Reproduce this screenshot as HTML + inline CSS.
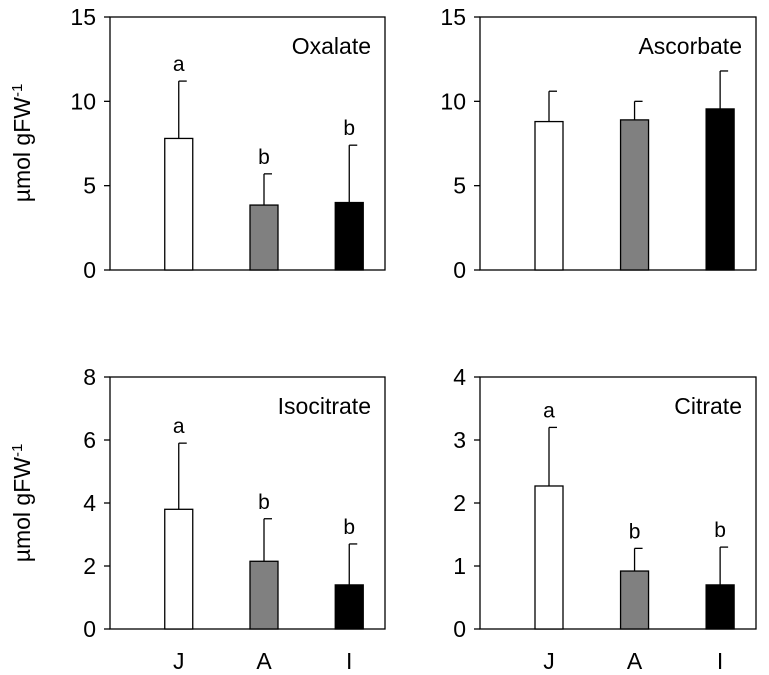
<!DOCTYPE html>
<html><head><meta charset="utf-8"><style>
body{margin:0;background:#fff;width:769px;height:670px;overflow:hidden}
svg{font-family:"Liberation Sans","DejaVu Sans",sans-serif}
</style></head><body>
<svg id="c" width="769" height="670"></svg>
<script>
const categories=["J","A","I"];
const titles=["Oxalate","Ascorbate","Isocitrate","Citrate"];
const oxalateValues=[7.8,3.85,4.0];
const oxalateErrors=[3.4,1.85,3.4];
const ascorbateValues=[8.8,8.9,9.55];
const ascorbateErrors=[1.8,1.1,2.25];
const isocitrateValues=[3.8,2.15,1.4];
const isocitrateErrors=[2.1,1.35,1.3];
const citrateValues=[2.27,0.92,0.7];
const citrateErrors=[0.93,0.36,0.6];
const oxalateLetters=["a","b","b"];
const ascorbateLetters=["","",""];
const isocitrateLetters=["a","b","b"];
const citrateLetters=["a","b","b"];
const topTicks=[0,5,10,15];
const isoTicks=[0,2,4,6,8];
const citTicks=[0,1,2,3,4];
const ns="http://www.w3.org/2000/svg";
const svg=document.getElementById('c');
function el(t,a,txt){const e=document.createElementNS(ns,t);for(const k in a)e.setAttribute(k,a[k]);if(txt!==undefined)e.textContent=txt;svg.appendChild(e);return e;}
const fills=["#fff","#808080","#000"];
const panels=[
 {x0:110,x1:385,y0:17,y1:270,vals:oxalateValues,errs:oxalateErrors,let:oxalateLetters,ticks:topTicks,t:0},
 {x0:480,x1:756,y0:17,y1:270,vals:ascorbateValues,errs:ascorbateErrors,let:ascorbateLetters,ticks:topTicks,t:1},
 {x0:110,x1:385,y0:377,y1:629,vals:isocitrateValues,errs:isocitrateErrors,let:isocitrateLetters,ticks:isoTicks,t:2},
 {x0:480,x1:756,y0:377,y1:629,vals:citrateValues,errs:citrateErrors,let:citrateLetters,ticks:citTicks,t:3}];
panels.forEach((p,pi)=>{
 const max=p.ticks[p.ticks.length-1];
 const y=v=>p.y1-(v/max)*(p.y1-p.y0);
 const xc=i=>p.x0+(p.x1-p.x0)*(0.25+0.31*i);
 let r=el('rect',{x:p.x0,y:p.y0,width:p.x1-p.x0,height:p.y1-p.y0,fill:'none',stroke:'#000','stroke-width':1.3});
 
 
 p.ticks.forEach(t=>{
  let l=el('line',{x1:p.x0-6,x2:p.x0,y1:y(t),y2:y(t),stroke:'#000','stroke-width':1.3});
  
  let tx=el('text',{x:p.x0-14,y:y(t)+8,'text-anchor':'end','font-size':23},t);
  
 });
 categories.forEach((c,i)=>{
  const cx=xc(i),w=28;
  const top=p.vals[i]+p.errs[i];
  let e=el('line',{x1:cx,x2:cx,y1:y(p.vals[i]),y2:y(top),stroke:'#000','stroke-width':1.3});
  
  let c2=el('line',{x1:cx,x2:cx+8,y1:y(top),y2:y(top),stroke:'#000','stroke-width':1.3});
  
  let b=el('rect',{x:cx-w/2,y:y(p.vals[i]),width:w,height:p.y1-y(p.vals[i]),fill:fills[i],stroke:'#000','stroke-width':1.3});
  
  if(p.let[i]){let lt=el('text',{x:cx,y:y(top)-10,'text-anchor':'middle','font-size':21},p.let[i]);
   }
  if(pi>=2){let xl=el('text',{x:cx,y:669,'text-anchor':'middle','font-size':23},c);
   }
 });
 let tt=el('text',{x:p.x1-14,y:p.y0+37,'text-anchor':'end','font-size':23},titles[p.t]);
 
});
[143,503].forEach(cy=>{
 const t=el('text',{x:0,y:0,'text-anchor':'middle','font-size':23,transform:`translate(30,${cy}) rotate(-90)`});
 t.innerHTML='µmol gFW<tspan dy="-8" font-size="15">-1</tspan>';
 
});
</script>
</body></html>
